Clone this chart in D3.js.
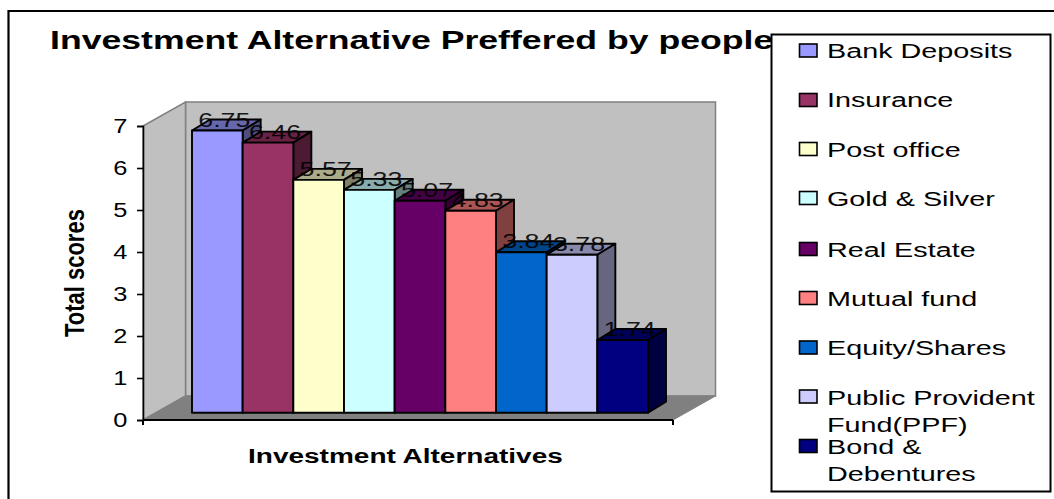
<!DOCTYPE html>
<html><head><meta charset="utf-8">
<script src="https://cdnjs.cloudflare.com/ajax/libs/d3/7.8.5/d3.min.js"></script>
<style>html,body{margin:0;padding:0;background:#fff}svg{display:block}text{font-family:"Liberation Sans",Arial,sans-serif;fill:#000}</style>
</head><body><svg id="c" width="1054" height="499"></svg>
<script>
const categories=["Bank Deposits","Insurance","Post office","Gold & Silver","Real Estate","Mutual fund","Equity/Shares","Public Provident Fund(PPF)","Bond & Debentures"];
const values=[6.75,6.46,5.57,5.33,5.07,4.83,3.84,3.78,1.74];
const colors=["#9999FF","#993366","#FFFFCC","#CCFFFF","#660066","#FF8080","#0066CC","#CCCCFF","#000080"];
const yTicks=[0,1,2,3,4,5,6,7];
const legendLines=[["Bank Deposits"],["Insurance"],["Post office"],["Gold & Silver"],["Real Estate"],["Mutual fund"],["Equity/Shares"],["Public Provident","Fund(PPF)"],["Bond &","Debentures"]];
const svg=d3.select("#c");
const shade=(c,f)=>{const k=d3.rgb(c);return d3.rgb(k.r*f,k.g*f,k.b*f).formatHex();};
// frame
svg.append("path").attr("d","M1054 11H8.5V499").attr("fill","none").attr("stroke","#000").attr("stroke-width",2.2);
// scales
const y=d3.scaleLinear().domain([0,7]).range([420,126]);
const yBar=d3.scaleLinear().domain([0,7]).range([412.7,120.1]);
const x=d3.scaleBand().domain(categories).range([192,648]);
const fx0=143,fx1=673,wallDx=42.5,wallDy=-24;
const yb=y(0),yt=y(7);
// walls
const g=svg.append("g");
g.append("path").attr("d",d3.line()([[fx0+wallDx,yb+wallDy],[fx1+wallDx,yb+wallDy],[fx1+wallDx,yt+wallDy],[fx0+wallDx,yt+wallDy]])+"Z").attr("fill","#C0C0C0").attr("stroke","#808080").attr("stroke-width",1.5);
g.append("path").attr("d",d3.line()([[fx0,yb],[fx0+wallDx,yb+wallDy],[fx0+wallDx,yt+wallDy],[fx0,yt]])+"Z").attr("fill","#C0C0C0").attr("stroke","#808080").attr("stroke-width",1.5);
g.append("path").attr("d",d3.line()([[fx0,yb],[fx1,yb],[fx1+wallDx,yb+wallDy],[fx0+wallDx,yb+wallDy]])+"Z").attr("fill","#808080").attr("stroke","#808080");
// axes
const yAxis=d3.axisLeft(y).tickValues(yTicks).tickFormat(d3.format("d")).tickSize(6);
const ag=svg.append("g").attr("transform",`translate(${fx0},0)`).call(yAxis);
ag.selectAll("path,line").attr("stroke","#000").attr("stroke-width",1.6);
ag.selectAll("text").attr("x",0).attr("font-size",20).attr("font-family","Liberation Sans").attr("transform","translate(-15.5,0) scale(1.27,1)");
svg.append("path").attr("d",`M${fx0} ${yb}H${fx1}M${fx0} ${yb}v5M${fx1} ${yb}v5`).attr("stroke","#000").attr("stroke-width",2).attr("fill","none");
// bars
const dx=18, dy=-11;
const barG=svg.append("g").attr("stroke","#000").attr("stroke-width",1.9).attr("stroke-linejoin","round");
categories.forEach((c,i)=>{
  const l=x(c),r=l+x.bandwidth(),t=yBar(values[i]),b=yBar(0);
  barG.append("path").attr("d",d3.line()([[l,t],[l+dx,t+dy],[r+dx,t+dy],[r,t]])+"Z").attr("fill",shade(colors[i],0.67));
  barG.append("path").attr("d",d3.line()([[r,t],[r+dx,t+dy],[r+dx,b+dy],[r,b]])+"Z").attr("fill",shade(colors[i],0.5));
  barG.append("rect").attr("x",l).attr("y",t).attr("width",x.bandwidth()).attr("height",b-t).attr("fill",colors[i]);
});
// data labels
svg.append("g").selectAll("text").data(values).join("text")
  .attr("transform",(d,i)=>`translate(${x(categories[i])+x.bandwidth()/2+7},${yBar(d)-4}) scale(1.34,1)`)
  .attr("text-anchor","middle").attr("font-size",20).style("opacity",0.88).text(d=>d.toFixed(2));
// titles
svg.append("text").attr("transform","translate(50,49) scale(1.345,1)").attr("font-size",26.5).attr("font-weight","bold").text("Investment Alternative Preffered by people");
svg.append("text").attr("transform","translate(248,463) scale(1.4,1)").attr("font-size",20).attr("font-weight","bold").text("Investment Alternatives");
svg.append("text").attr("transform","translate(83.5,337) rotate(-90) scale(1.1,1.37)").attr("font-size",20).attr("font-weight","bold").text("Total scores");
// legend
svg.append("rect").attr("x",771.5).attr("y",34.5).attr("width",279).attr("height",457).attr("fill","#fff").attr("stroke","#000").attr("stroke-width",2);
const rowY=[50.5,100,149,198,249,298,347.5,396.5,446];
const rowBase=[58.3,107.3,156.7,206,256.7,306,355,405,454];
const lg=svg.append("g");
legendLines.forEach((lines,i)=>{
  lg.append("rect").attr("x",799.5).attr("y",rowY[i]-6.5).attr("width",17.5).attr("height",13).attr("fill",colors[i]).attr("stroke","#000").attr("stroke-width",1.6);
  lines.forEach((s,j)=>lg.append("text").attr("transform",`translate(827,${rowBase[i]+j*27.3}) scale(1.37,1)`).attr("font-size",21).text(s));
});
</script></body></html>
